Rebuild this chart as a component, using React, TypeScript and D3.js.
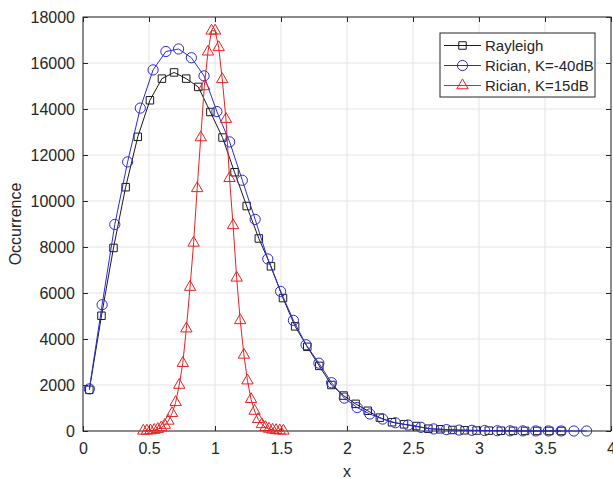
import React, { useRef, useEffect } from 'react';
import * as d3 from 'd3';

// Rayleigh histogram (bin centres and counts)
const rayleighX = [0.048, 0.140, 0.231, 0.323, 0.415, 0.507, 0.598, 0.690, 0.782, 0.873, 0.965, 1.057, 1.148, 1.240, 1.332, 1.424, 1.515, 1.607, 1.699, 1.790, 1.882, 1.974, 2.065, 2.157, 2.249, 2.341, 2.432, 2.524, 2.616, 2.707, 2.799, 2.891, 2.982, 3.074, 3.166, 3.258, 3.349, 3.441, 3.533, 3.624];
const rayleighY = [1790, 5010, 7960, 10600, 12790, 14380, 15320, 15590, 15320, 14960, 13870, 12760, 11250, 9780, 8370, 7160, 5780, 4550, 3660, 2830, 2000, 1540, 1180, 880, 580, 380, 290, 215, 100, 75, 45, 30, 20, 15, 10, 6, 4, 3, 2, 1];

// Rician K=-40dB
const ricianLowX = [0.048, 0.145, 0.241, 0.338, 0.434, 0.531, 0.628, 0.724, 0.821, 0.917, 1.014, 1.111, 1.207, 1.304, 1.400, 1.497, 1.594, 1.690, 1.787, 1.883, 1.980, 2.077, 2.173, 2.270, 2.366, 2.463, 2.560, 2.656, 2.753, 2.849, 2.946, 3.043, 3.139, 3.236, 3.332, 3.429, 3.526, 3.622, 3.719, 3.815];
const ricianLowY = [1830, 5490, 8980, 11700, 14040, 15700, 16500, 16610, 16230, 15440, 13890, 12570, 10900, 9200, 7480, 6070, 4810, 3750, 2950, 2100, 1430, 1020, 740, 520, 360, 260, 160, 90, 60, 40, 30, 20, 12, 8, 5, 4, 3, 2, 1, 1];

// Rician K=15dB
const ricianHighX = [0.457, 0.484, 0.511, 0.539, 0.566, 0.593, 0.620, 0.647, 0.675, 0.702, 0.729, 0.756, 0.783, 0.811, 0.838, 0.865, 0.892, 0.919, 0.947, 0.974, 1.001, 1.028, 1.055, 1.083, 1.110, 1.137, 1.164, 1.191, 1.219, 1.246, 1.273, 1.300, 1.327, 1.355, 1.382, 1.409, 1.436, 1.463, 1.491, 1.518];
const ricianHighY = [5, 10, 20, 40, 80, 150, 260, 440, 770, 1250, 2000, 2950, 4450, 6260, 8180, 10550, 12760, 14980, 16490, 17400, 17400, 16680, 15290, 13560, 10990, 8940, 6660, 4810, 3310, 2190, 1380, 870, 510, 290, 160, 90, 50, 30, 15, 8];

const xTicks = [0, 0.5, 1, 1.5, 2, 2.5, 3, 3.5, 4];
const yTicks = [0, 2000, 4000, 6000, 8000, 10000, 12000, 14000, 16000, 18000];

const seriesNames = ['Rayleigh', 'Rician, K=-40dB', 'Rician, K=15dB'];

export default function App() {
  const ref = useRef(null);

  useEffect(() => {
    const width = 613;
    const height = 479;
    const margin = { top: 17, right: 2, bottom: 48, left: 83 };
    const font = '"Liberation Sans", Arial, sans-serif';
    const axisColor = '#262626';

    const svg = d3
      .select(ref.current)
      .call((g) => g.select('svg').remove())
      .append('svg')
      .attr('width', width)
      .attr('height', height)
      .style('position', 'absolute')
      .style('left', 0)
      .style('top', 0)
      .style('background', '#fff');

    const x = d3.scaleLinear().domain([0, 4]).range([margin.left, width - margin.right]);
    const y = d3.scaleLinear().domain([0, 18000]).range([height - margin.bottom, margin.top]);

    const [x0, x1] = x.range();
    const [y0, y1] = y.range();

    // grid
    const grid = svg.append('g').attr('stroke', '#e3e3e3').attr('stroke-width', 1);
    xTicks.forEach((t) => {
      grid.append('line').attr('x1', x(t)).attr('x2', x(t)).attr('y1', y0).attr('y2', y1);
    });
    yTicks.forEach((t) => {
      grid.append('line').attr('x1', x0).attr('x2', x1).attr('y1', y(t)).attr('y2', y(t));
    });

    // axes (ticks inside, box on)
    const tickLen = 5;
    const xAxis = (g) =>
      g.attr('transform', `translate(0, ${y0})`).call(
        d3.axisBottom(x).tickValues(xTicks).tickSizeInner(-tickLen).tickSizeOuter(0).tickPadding(12).tickFormat((d) => String(d))
      );
    const yAxis = (g) =>
      g.attr('transform', `translate(${x0}, 0)`).call(
        d3.axisLeft(y).tickValues(yTicks).tickSizeInner(-tickLen).tickSizeOuter(0).tickPadding(8).tickFormat((d) => String(d))
      );
    const topAxis = (g) =>
      g.attr('transform', `translate(0, ${y1})`).call(
        d3.axisTop(x).tickValues(xTicks).tickSizeInner(-tickLen).tickSizeOuter(0).tickFormat(() => '')
      );
    const rightAxis = (g) =>
      g.attr('transform', `translate(${x1}, 0)`).call(
        d3.axisRight(y).tickValues(yTicks).tickSizeInner(-tickLen).tickSizeOuter(0).tickFormat(() => '')
      );

    [xAxis, yAxis, topAxis, rightAxis].forEach((axis) => {
      const g = svg.append('g').call(axis);
      g.select('.domain').remove();
      g.selectAll('line').attr('stroke', axisColor);
      g.selectAll('text').attr('fill', axisColor).style('font-family', font).style('font-size', '16px');
    });

    svg
      .append('rect')
      .attr('x', x0)
      .attr('y', y1)
      .attr('width', x1 - x0)
      .attr('height', y0 - y1)
      .attr('fill', 'none')
      .attr('stroke', axisColor)
      .attr('stroke-width', 1);

    // labels
    svg
      .append('text')
      .attr('x', (x0 + x1) / 2)
      .attr('y', 477)
      .attr('text-anchor', 'middle')
      .attr('fill', axisColor)
      .style('font-family', font)
      .style('font-size', '16px')
      .text('x');

    svg
      .append('text')
      .attr('transform', `translate(21, ${(y0 + y1) / 2}) rotate(-90)`)
      .attr('text-anchor', 'middle')
      .attr('fill', axisColor)
      .style('font-family', font)
      .style('font-size', '16px')
      .text('Occurrence');

    const squareMark = d3.symbol().type(d3.symbolSquare).size(56);
    const circleMark = d3.symbol().type(d3.symbolCircle).size(82);
    const triangleMark = d3.symbol().type(d3.symbolTriangle).size(56);

    const series = [
      { xs: rayleighX, ys: rayleighY, color: '#1a1a1a', mark: squareMark },
      { xs: ricianLowX, ys: ricianLowY, color: '#2a2ad6', mark: circleMark },
      { xs: ricianHighX, ys: ricianHighY, color: '#e62222', mark: triangleMark },
    ];

    const line = d3
      .line()
      .x((d) => x(d[0]))
      .y((d) => y(d[1]));

    series.forEach(({ xs, ys, color, mark }) => {
      const pts = xs.map((v, i) => [v, ys[i]]);
      svg
        .append('path')
        .attr('fill', 'none')
        .attr('stroke', color)
        .attr('stroke-width', 1)
        .attr('d', line(pts));
      svg
        .append('g')
        .selectAll('path')
        .data(pts)
        .join('path')
        .attr('d', mark)
        .attr('transform', (d) => `translate(${x(d[0])}, ${y(d[1])})`)
        .attr('fill', 'none')
        .attr('stroke', color)
        .attr('stroke-width', 1);
    });

    // legend
    const legend = svg.append('g');
    legend
      .append('rect')
      .attr('x', 440)
      .attr('y', 33)
      .attr('width', 155)
      .attr('height', 64)
      .attr('fill', '#fff')
      .attr('stroke', axisColor)
      .attr('stroke-width', 1);

    series.forEach(({ color, mark }, i) => {
      const ly = 45.5 + i * 20;
      legend.append('line').attr('x1', 444).attr('x2', 481).attr('y1', ly).attr('y2', ly).attr('stroke', color);
      legend
        .append('path')
        .attr('d', mark)
        .attr('transform', `translate(462.5, ${ly})`)
        .attr('fill', 'none')
        .attr('stroke', color);
      legend
        .append('text')
        .attr('x', 485)
        .attr('y', ly)
        .attr('dy', '0.35em')
        .attr('fill', axisColor)
        .style('font-family', font)
        .style('font-size', '15px')
        .text(seriesNames[i]);
    });
  }, []);

  return <div ref={ref}></div>;
}
